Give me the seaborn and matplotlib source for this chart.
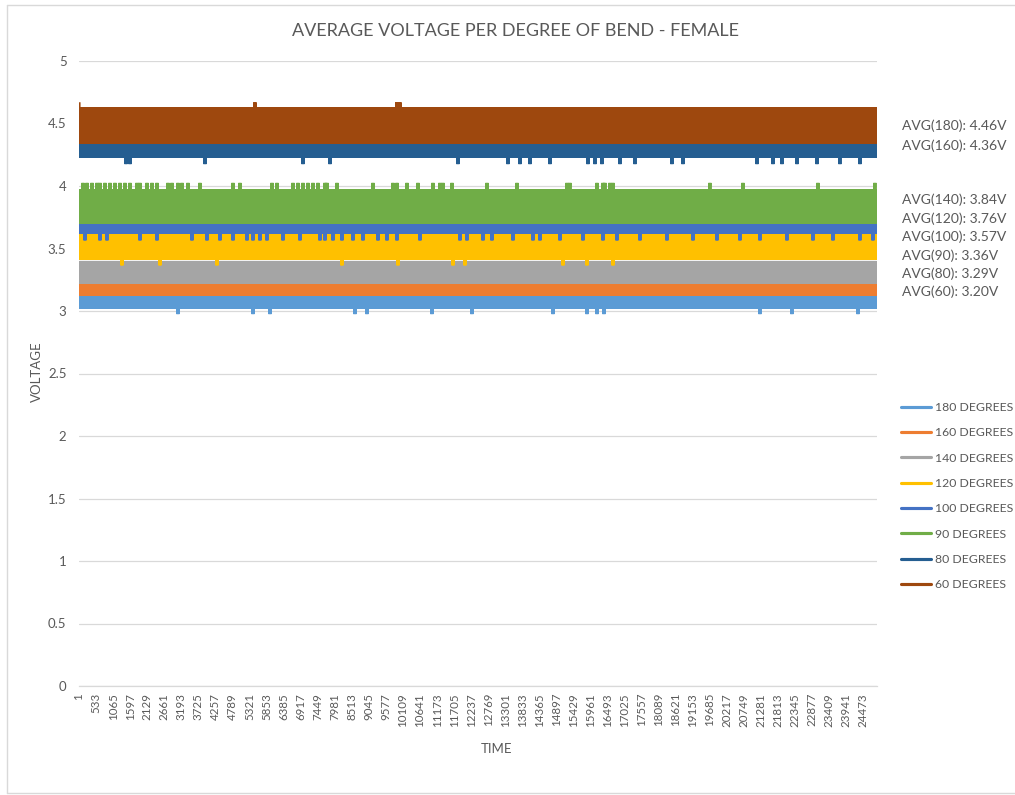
import numpy as np
import pandas as pd
import matplotlib
matplotlib.use("Agg")
import matplotlib.pyplot as plt
from matplotlib.lines import Line2D
import seaborn as sns

# ---------------- data ----------------
N_POINTS = 24900
series_names = ["180 DEGREES", "160 DEGREES", "140 DEGREES", "120 DEGREES",
                "100 DEGREES", "90 DEGREES", "80 DEGREES", "60 DEGREES"]
colors = ["#5B9BD5", "#ED7D31", "#A5A5A5", "#FFC000",
          "#4472C4", "#70AD47", "#255E91", "#9E480E"]
# the two quantised levels each noisy signal jumps between
low_levels = [3.02, 3.125, 3.22, 3.41, 3.62, 3.70, 4.23, 4.34]
high_levels = [3.12, 3.22, 3.40, 3.62, 3.70, 3.975, 4.33, 4.625]
# isolated outlier samples (time index) and their voltage
spike_times = [
    [3089, 5429, 5959, 8611, 8986, 11014, 12262, 14789, 15850, 16162, 16380,
     21247, 22246, 24305],
    [],
    [],
    [1342, 2527, 4306, 8206, 9953, 11669, 12043, 15101, 15850, 16661],
    [187, 655, 874, 1903, 2434, 3526, 3994, 4399, 4805, 5242, 5429, 5647, 5866,
     6365, 6895, 7519, 7675, 7925, 8206, 8549, 8861, 9329, 9610, 9922, 10639,
     11887, 12106, 12605, 12886, 13541, 14165, 14383, 15007, 15725, 16349,
     16786, 17503, 18346, 19157, 19906, 20623, 21247, 22090, 22901, 23525,
     24367, 24773],
    [125, 250, 406, 562, 655, 811, 967, 1123, 1279, 1435, 1591, 1810, 1903,
     2122, 2278, 2434, 2777, 2902, 3089, 3214, 3401, 3775, 4805, 5023, 6022,
     6178, 6677, 6833, 6989, 7145, 7301, 7457, 7675, 7738, 8050, 9173, 9797,
     9922, 10234, 10577, 11045, 11263, 11357, 11638, 12730, 13666, 15226,
     15319, 16162, 16349, 16411, 16567, 16661, 19687, 20717, 23057, 24835],
    [1466, 1591, 3931, 6989, 7831, 11825, 13385, 13759, 14071, 14695, 15881,
     16099, 16318, 16879, 17347, 18502, 18845, 21154, 21653, 21934, 22402,
     23026, 23743, 24368],
    [1, 5491, 9911, 10015],
]
spike_values = [2.975, None, None, 3.365, 3.565, 4.025, 4.175, 4.67]

avg_labels = ["AVG(180): 4.46V", "AVG(160): 4.36V", "AVG(140): 3.84V",
              "AVG(120): 3.76V", "AVG(100): 3.57V", "AVG(90): 3.36V",
              "AVG(80): 3.29V", "AVG(60): 3.20V"]
y_ticks = [0, 0.5, 1, 1.5, 2, 2.5, 3, 3.5, 4, 4.5, 5]
x_tick_step = 532

# ---------------- build long table ----------------
t = np.arange(1, N_POINTS + 1)
frames = []
for name, lo, hi, sp_t, sp_v in zip(series_names, low_levels, high_levels,
                                    spike_times, spike_values):
    y = np.where(t % 2 == 0, lo, hi).astype(float)
    for st in sp_t:
        y[st - 1] = sp_v
    frames.append(pd.DataFrame({"TIME": t, "VOLTAGE": y, "series": name}))
df = pd.concat(frames, ignore_index=True)

# ---------------- style ----------------
sns.set_theme(style="white")
plt.rcParams["font.family"] = ["Lato", "DejaVu Sans"]
TXT = "#595959"
GRID = "#D9D9D9"

W, H = 1015, 795
fig = plt.figure(figsize=(W / 100, H / 100), dpi=100)
fig.patch.set_facecolor("white")

def fx(px):
    return px / W

def fy(py):
    return 1 - py / H

ax_l, ax_r, ax_t, ax_b = 79, 877, 61, 686
ax = fig.add_axes([fx(ax_l), fy(ax_b), fx(ax_r) - fx(ax_l), fy(ax_t) - fy(ax_b)])

palette = dict(zip(series_names, colors))
sns.lineplot(data=df, x="TIME", y="VOLTAGE", hue="series", hue_order=series_names,
             palette=palette, estimator=None, sort=False, linewidth=2.25,
             legend=False, ax=ax)
for ln in ax.get_lines():
    ln.set_solid_capstyle("butt")
    ln.set_solid_joinstyle("bevel")

ax.set_xlim(1, N_POINTS)
ax.set_ylim(0, 5)
ax.set_yticks(y_ticks)
ax.set_yticklabels([f"{v:g}" for v in y_ticks])
xt = list(range(1, N_POINTS + 1, x_tick_step))
ax.set_xticks(xt)
ax.set_xticklabels([str(v) for v in xt], rotation=90)

ax.yaxis.grid(True, color=GRID, linewidth=0.9)
ax.xaxis.grid(False)
ax.set_axisbelow(True)
for s in ["top", "right", "left"]:
    ax.spines[s].set_visible(False)
ax.spines["bottom"].set_color(GRID)
ax.spines["bottom"].set_linewidth(0.9)
ax.tick_params(axis="both", length=0, colors=TXT)
ax.tick_params(axis="y", labelsize=9.5, pad=9)
ax.tick_params(axis="x", labelsize=8.3, pad=5)

ax.set_xlabel("TIME", color=TXT, fontsize=9.5)
ax.set_ylabel("VOLTAGE", color=TXT, fontsize=9.5)
ax.xaxis.set_label_coords((496 - ax_l) / (ax_r - ax_l), (ax_b - 743) / (ax_b - ax_t))
ax.yaxis.set_label_coords((43 - ax_l) / (ax_r - ax_l), (ax_b - 372) / (ax_b - ax_t))

fig.text(fx(516), fy(31), "AVERAGE VOLTAGE PER DEGREE OF BEND - FEMALE",
         ha="center", va="center", fontsize=13, color=TXT)

# average annotations
avg_y = [126, 146, 200, 219, 237, 256, 274, 292]
for lab, py in zip(avg_labels, avg_y):
    fig.text(fx(902), fy(py), lab, ha="left", va="center", fontsize=10, color=TXT)

# legend
handles = [Line2D([0], [0], color=c, lw=2.25) for c in colors]
leg = fig.legend(handles, series_names, loc="upper left",
                 bbox_to_anchor=(fx(901), fy(402)), frameon=False,
                 fontsize=8.8, handlelength=2.45, handletextpad=0.3,
                 labelspacing=1.17, borderpad=0, borderaxespad=0)
for txt in leg.get_texts():
    txt.set_color(TXT)

# chart area border (left, top, bottom)
for xs, ys in [([fx(7), fx(7)], [fy(5), fy(793)]),
               ([fx(7), 1.0], [fy(5), fy(5)]),
               ([fx(7), 1.0], [fy(793), fy(793)])]:
    fig.add_artist(Line2D(xs, ys, color=GRID, lw=1.0))

fig.savefig("out.png", dpi=100, facecolor="white")
